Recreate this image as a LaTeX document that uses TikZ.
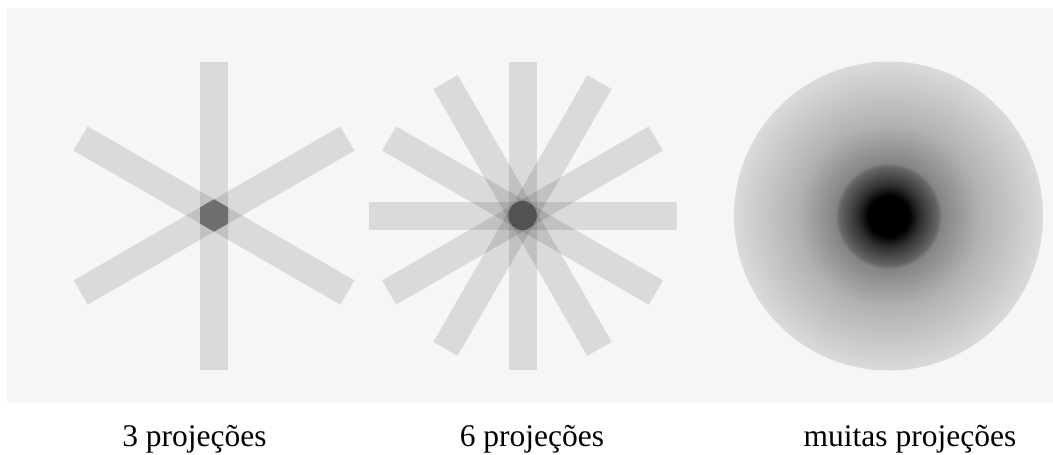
\documentclass[tikz,border=0pt]{standalone}
\usepackage{fontspec}
\setmainfont{Liberation Serif}
\usetikzlibrary{calc}
\definecolor{panelbg}{HTML}{F6F6F6}
\definecolor{coredark}{HTML}{6E6E6E}
\definecolor{coredeep}{HTML}{525252}
\definecolor{haloin}{gray}{0.18}
\definecolor{haloout}{gray}{0.40}
\definecolor{ringin}{gray}{0.52}
\definecolor{ringmid}{gray}{0.70}
\definecolor{ringout}{gray}{0.855}
\pgfdeclareradialshading{backproj}{\pgfpoint{0bp}{0bp}}{%
  color(0bp)=(black); color(3.3bp)=(black); color(5bp)=(haloin);
  color(8bp)=(haloout); color(8.6bp)=(ringin); color(15bp)=(ringmid);
  color(25bp)=(ringout); color(50bp)=(ringout)}
\tikzset{
  projbar/.style={fill=black, fill opacity=0.114},
  caption/.style={font=\fontsize{31.5}{36}\selectfont, anchor=base,
    inner sep=0pt},
}

\begin{document}
\begin{tikzpicture}[x=1pt, y=-1pt]

  \useasboundingbox (0,0) rectangle (1053,455);
  \fill[white] (0,0) rectangle (1053,455);

  % background panel
  \fill[panelbg] (7,8) rectangle (1053,403);

  % centres
  \coordinate (star3) at (214,215.5);
  \coordinate (star6) at (522.5,215.5);
  \coordinate (disk) at (888.5,216);

  % 3 projections
  \foreach \a in {30,90,150}
    \fill[projbar, shift={(star3)}, rotate=\a] (-154,-14) rectangle (154,14);
  \begin{scope}
    \clip[shift={(star3)}, rotate=30] (-154,-14) rectangle (154,14);
    \clip[shift={(star3)}, rotate=90] (-154,-14) rectangle (154,14);
    \clip[shift={(star3)}, rotate=150] (-154,-14) rectangle (154,14);
    \fill[coredark] (star3) circle (30);
  \end{scope}

  % 6 projections
  \foreach \a in {0,30,...,150}
    \fill[projbar, shift={(star6)}, rotate=\a] (-154,-14) rectangle (154,14);
  \begin{scope}
    \clip[shift={(star6)}, rotate=0] (-154,-14) rectangle (154,14);
    \clip[shift={(star6)}, rotate=30] (-154,-14) rectangle (154,14);
    \clip[shift={(star6)}, rotate=60] (-154,-14) rectangle (154,14);
    \clip[shift={(star6)}, rotate=90] (-154,-14) rectangle (154,14);
    \clip[shift={(star6)}, rotate=120] (-154,-14) rectangle (154,14);
    \clip[shift={(star6)}, rotate=150] (-154,-14) rectangle (154,14);
    \fill[coredeep] (star6) circle (30);
  \end{scope}

  % many projections
  \shade[shading=backproj] (disk) circle (154.5);

  % captions
  \node[caption] (cap3) at (194.5,446) {3 projeções};
  \node[caption] (cap6) at (532,446) {6 projeções};
  \node[caption] (capN) at (910,446) {muitas projeções};

\end{tikzpicture}
\end{document}
